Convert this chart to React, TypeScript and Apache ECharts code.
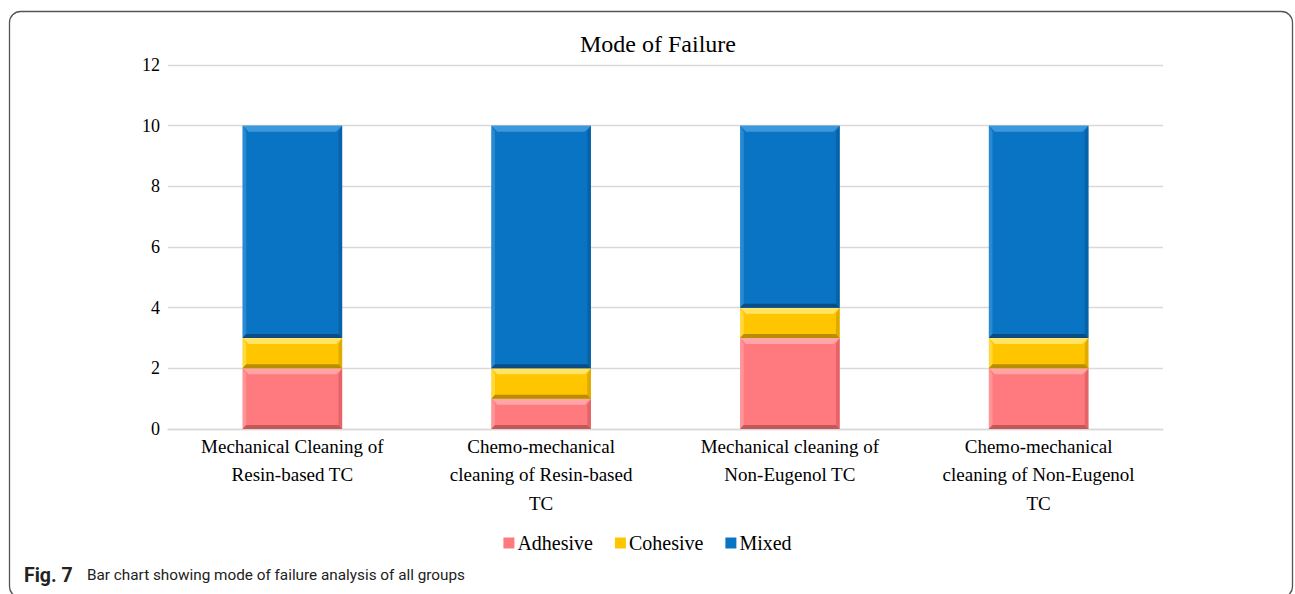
import React, { useEffect, useRef } from "react";
import * as echarts from "echarts";

const categories = [
  "Mechanical Cleaning of\nResin-based TC",
  "Chemo-mechanical\ncleaning of Resin-based\nTC",
  "Mechanical cleaning of\nNon-Eugenol TC",
  "Chemo-mechanical\ncleaning of Non-Eugenol\nTC",
];
const adhesive = [2, 1, 3, 2];
const cohesive = [1, 1, 1, 1];
const mixed = [7, 8, 6, 7];
const yTicks = { min: 0, max: 12, interval: 2 };

const palette = {
  Adhesive: { main: "#FF7A7E", light: "#FFA5A8", dark: "#C45759", side: "#E46468" },
  Cohesive: { main: "#FFC600", light: "#FFE466", dark: "#B88D00", side: "#E0AA00" },
  Mixed: { main: "#0A74C4", light: "#3D97DB", dark: "#0A4C84", side: "#0862A8" },
};

const serif = "'Liberation Serif', 'Times New Roman', serif";

function stackData(vals: number[], bases: number[]) {
  return vals.map((v, i) => [i, bases[i], bases[i] + v]);
}

function makeRender(name: keyof typeof palette) {
  const c = palette[name];
  return (params: any, api: any) => {
    const cat = api.value(0);
    const base = api.value(1);
    const top = api.value(2);
    const p0 = api.coord([cat, base]);
    const p1 = api.coord([cat, top]);
    const w = api.size([1, 0])[0] * 0.4;
    const x = p0[0] - w / 2;
    const y = p1[1];
    const h = p0[1] - p1[1];
    const b = Math.min(6, h / 3);
    const bb = Math.min(4, h / 4);
    const x2 = x + w;
    const y2 = y + h;
    return {
      type: "group",
      children: [
        { type: "rect", shape: { x, y, width: w, height: h }, style: { fill: c.main } },
        {
          type: "polygon",
          shape: { points: [[x, y], [x2, y], [x2 - b, y + b], [x + b, y + b]] },
          style: { fill: c.light },
        },
        {
          type: "polygon",
          shape: { points: [[x, y], [x + b * 0.6, y + b], [x + b * 0.6, y2 - bb], [x, y2]] },
          style: { fill: c.light, opacity: 0.6 },
        },
        {
          type: "polygon",
          shape: { points: [[x2, y], [x2, y2], [x2 - b * 0.6, y2 - bb], [x2 - b * 0.6, y + b]] },
          style: { fill: c.side },
        },
        {
          type: "polygon",
          shape: { points: [[x, y2], [x + b * 0.6, y2 - bb], [x2 - b * 0.6, y2 - bb], [x2, y2]] },
          style: { fill: c.dark },
        },
      ],
    };
  };
}

export default function App() {
  const ref = useRef<HTMLDivElement>(null);
  useEffect(() => {
    const chart = echarts.init(ref.current!, null, { renderer: "svg" });
    const zeros = categories.map(() => 0);
    const cohBase = adhesive.slice();
    const mixBase = adhesive.map((v, i) => v + cohesive[i]);
    const series: any[] = [
      { name: "Adhesive", data: stackData(adhesive, zeros) },
      { name: "Cohesive", data: stackData(cohesive, cohBase) },
      { name: "Mixed", data: stackData(mixed, mixBase) },
    ].map((s) => ({
      type: "custom",
      name: s.name,
      data: s.data,
      encode: { x: 0, y: [1, 2] },
      itemStyle: { color: (palette as any)[s.name].main },
      renderItem: makeRender(s.name as keyof typeof palette),
    }));
    chart.setOption({
      animation: false,
      backgroundColor: "#ffffff",
      title: {
        text: "Mode of Failure",
        left: 653,
        textAlign: "center",
        top: 27,
        textStyle: { fontFamily: serif, fontSize: 24, fontWeight: "normal", color: "#000" },
      },
      grid: { left: 168, right: 132, top: 65, bottom: 165, containLabel: false },
      legend: {
        top: 528,
        left: "center",
        icon: "rect",
        itemWidth: 11,
        itemHeight: 11,
        itemGap: 22,
        textStyle: { fontFamily: serif, fontSize: 20, color: "#000", padding: [0, 0, 0, -2] },
        data: ["Adhesive", "Cohesive", "Mixed"],
      },
      xAxis: {
        type: "category",
        data: categories,
        axisLine: { lineStyle: { color: "#d9d9d9", width: 1.3 } },
        axisTick: { show: false },
        axisLabel: {
          fontFamily: serif,
          fontSize: 19,
          color: "#000",
          lineHeight: 28.5,
          margin: 3,
          interval: 0,
        },
      },
      yAxis: {
        type: "value",
        min: yTicks.min,
        max: yTicks.max,
        interval: yTicks.interval,
        axisLine: { show: false },
        axisTick: { show: false },
        splitLine: { lineStyle: { color: "#d9d9d9", width: 1.3 } },
        axisLabel: { fontFamily: serif, fontSize: 18, color: "#000", margin: 8 },
      },
      series,
      graphic: [
        {
          type: "rect",
          shape: { x: 9.5, y: 11.5, width: 1283, height: 586, r: 11 },
          style: { fill: "none", stroke: "#555", lineWidth: 1.3 },
          silent: true,
        },
        {
          type: "text",
          x: 24,
          y: 575,
          style: {
            text: "Fig. 7",
            verticalAlign: "middle",
            fontFamily: "Roboto, sans-serif",
            fontWeight: "bold",
            fontSize: 19.5,
            fill: "#222",
          },
        },
        {
          type: "text",
          x: 87,
          y: 575,
          style: {
            text: "Bar chart showing mode of failure analysis of all groups",
            verticalAlign: "middle",
            fontFamily: "Roboto, sans-serif",
            fontSize: 15.3,
            fill: "#222",
          },
        },
      ],
    });
    return () => chart.dispose();
  }, []);
  return (
    <div
      ref={ref}
      style={{ position: "fixed", left: 0, top: 0, width: 1295, height: 594 }}
    />
  );
}
